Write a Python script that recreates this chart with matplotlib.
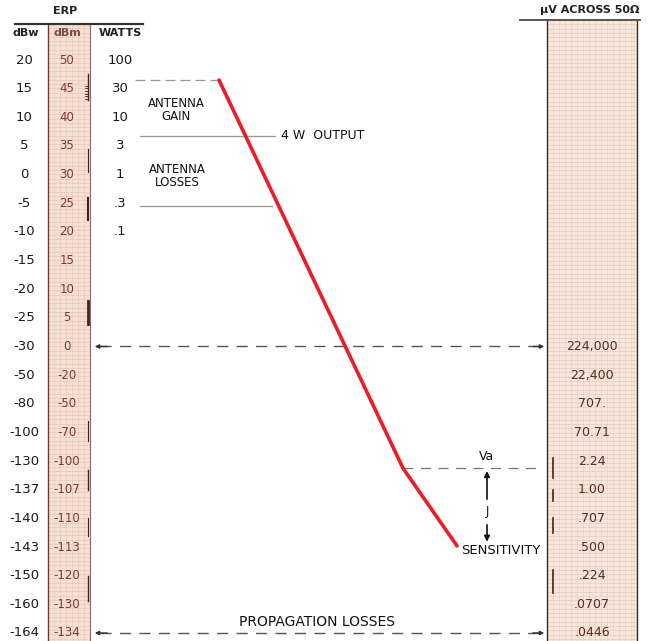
import numpy as np
import matplotlib
matplotlib.use("Agg")
import matplotlib.pyplot as plt

# Scale values, one per row, top to bottom
dbw = ['20', '15', '10', '5', '0', '-5', '-10', '-15', '-20', '-25', '-30',
       '-50', '-80', '-100', '-130', '-137', '-140', '-143', '-150', '-160', '-164']
dbm = ['50', '45', '40', '35', '30', '25', '20', '15', '10', '5', '0',
       '-20', '-50', '-70', '-100', '-107', '-110', '-113', '-120', '-130', '-134']
watts = ['100', '30', '10', '3', '1', '.3', '.1']
uv = ['224,000', '22,400', '707.', '70.71', '2.24', '1.00', '.707', '.500',
      '.224', '.0707', '.0446']
uv_first_row = 10

# Signal path (x = position across the diagram, y = row on the level scale)
path_x = [219, 403, 457]
path_row = [0.70, 14.25, 16.96]

# Reference levels (rows)
gain_top_row = 0.70
output_row = 2.65
loss_row = 5.10
ref_row = 10.0
va_row = 14.25
sens_row = 16.96
prop_row = 20.0

row_px = 28.65
top_px = 60.0
H, W = 641, 660

def prow(px):
    # pixel height -> row units
    return (px - top_px) / row_px

fig = plt.figure(figsize=(6.6, 6.41), dpi=100)
ax = fig.add_axes([0, 0, 1, 1])
ax.set_xlim(0, W)
ax.set_ylim(prow(H), prow(0))
ax.axis('off')

# paper strips
def strip(x0, x1, y0, y1, col):
    ax.fill_between([x0, x1], y0, y1, color=col, zorder=0, lw=0)
    for yy in np.arange(y0, y1, 0.15):
        ax.plot([x0, x1], [yy, yy], color='#d9aa9a', lw=0.5, alpha=0.45, zorder=0)
    for xx in np.arange(x0, x1, 6):
        ax.plot([xx, xx], [y0, y1], color='#d9aa9a', lw=0.5, alpha=0.35, zorder=0)

n = len(dbw)
ybot = prow(H)
strip(48, 90, prow(24), ybot, '#f5e0d5')
strip(547, 637, prow(20), ybot, '#f7e6da')
ax.plot([48, 48], [prow(24), ybot], color='#6b3a30', lw=1.0)
ax.plot([90, 90], [prow(24), ybot], color='#8a6a60', lw=0.8)
ax.plot([547, 547], [prow(20), ybot], color='#3a2a25', lw=1.0)
ax.plot([637, 637], [prow(20), ybot], color='#3a2a25', lw=1.0)

# small scale marks in dBm strip
for r0, r1, w in [(0.5, 1.4, 1.0), (3.1, 3.9, 0.8), (4.8, 5.6, 1.5), (8.4, 9.2, 2.0),
                  (12.6, 13.3, 0.8), (14.3, 15.0, 1.0), (16.0, 16.6, 0.8), (18.0, 18.9, 1.0)]:
    ax.plot([88, 88], [r0, r1], color='#3a2520', lw=w)
for r in np.linspace(0.9, 1.35, 6):
    ax.plot([85, 88], [r, r], color='#3a2520', lw=0.6)
# marks in right strip
for r0, r1 in [(13.9, 14.6), (15.0, 15.4), (16.0, 16.5), (17.8, 18.6)]:
    ax.plot([553, 553], [r0, r1], color='#3a2520', lw=1.2)

# headers
ax.plot([15, 143], [prow(24), prow(24)], color='#333333', lw=1.6)
ax.plot([520, 640], [prow(20), prow(20)], color='#555555', lw=1.4)
tk = dict(fontsize=8, fontweight='bold', color='#222222', ha='center', va='center')
ax.text(65, prow(11), 'ERP', **tk)
ax.text(26, prow(33), 'dBw', **tk)
ax.text(67, prow(33), 'dBm', fontsize=8, fontweight='bold', color='#7a4a44',
        ha='center', va='center')
ax.text(120, prow(33), 'WATTS', **tk)
ax.text(590, prow(10), 'µV ACROSS 50Ω', **tk)

# scale labels
for i in range(n):
    ax.text(24, i, dbw[i], fontsize=9.5, ha='center', va='center', color='#1a1a1a')
    ax.text(67, i, dbm[i], fontsize=8.5, ha='center', va='center', color='#7a3a32')
for i, w in enumerate(watts):
    ax.text(120, i, w, fontsize=9.5, ha='center', va='center', color='#1a1a1a')
for i, v in enumerate(uv):
    ax.text(592, uv_first_row + i, v, fontsize=9, ha='center', va='center', color='#5a2a25')

# reference lines
ax.plot([135, path_x[0]], [gain_top_row, gain_top_row], color='#999999', lw=0.9,
        dashes=(8, 4))
ax.plot([140, 275], [output_row, output_row], color='#9a9a8a', lw=0.9)
ax.plot([140, 272], [loss_row, loss_row], color='#9a9a8a', lw=0.9)
ax.plot([100, 540], [ref_row, ref_row], color='#555550', lw=1.0, dashes=(8, 6))
ax.plot([path_x[1], 540], [va_row, va_row], color='#777770', lw=0.9, dashes=(8, 6))
ax.plot([100, 540], [prop_row, prop_row], color='#555550', lw=1.0, dashes=(8, 6))
for xs, xe, r in [(110, 92, ref_row), (530, 547, ref_row),
                  (110, 92, prop_row), (530, 547, prop_row)]:
    ax.annotate('', xy=(xe, r), xytext=(xs, r),
                arrowprops=dict(arrowstyle='-|>', color='#333333', lw=1.0,
                                mutation_scale=6))

# J arrow
ax.annotate('', xy=(487, va_row), xytext=(487, prow(502)),
            arrowprops=dict(arrowstyle='-|>', color='#111111', lw=1.2, mutation_scale=8))
ax.annotate('', xy=(487, sens_row - 0.05), xytext=(487, prow(522)),
            arrowprops=dict(arrowstyle='-|>', color='#111111', lw=1.2, mutation_scale=8))

# signal path
ax.plot(path_x, path_row, color='#ee1c24', lw=2.6, solid_capstyle='round', zorder=5)

# annotations
lab = dict(fontsize=8.5, color='#111111', ha='center', va='center')
ax.text(176, prow(110), 'ANTENNA\nGAIN', linespacing=1.0, **lab)
ax.text(177, prow(176), 'ANTENNA\nLOSSES', linespacing=1.0, **lab)
ax.text(281, output_row, '4 W  OUTPUT', fontsize=9, color='#111111', ha='left', va='center')
ax.text(487, prow(457), 'Va', fontsize=9, color='#111111', ha='center', va='center')
ax.text(487, prow(511), 'J', **lab)
ax.text(461, prow(550), 'SENSITIVITY', fontsize=9.5, color='#111111',
        ha='left', va='center')
ax.text(317, prow(622), 'PROPAGATION LOSSES', fontsize=10, color='#111111',
        ha='center', va='center')

fig.savefig('out.png', dpi=100, facecolor='white')
